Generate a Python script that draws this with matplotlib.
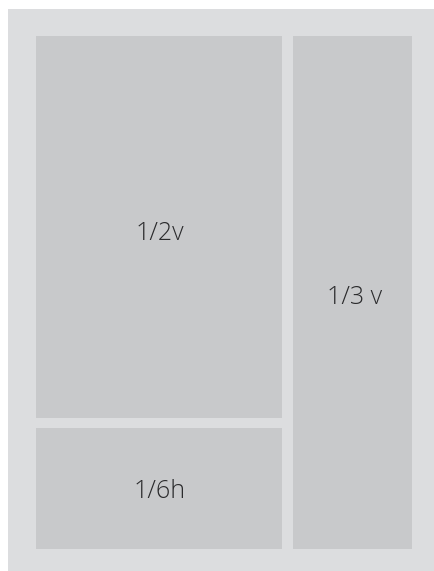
import matplotlib
matplotlib.use("Agg")
import matplotlib.pyplot as plt
from matplotlib.patches import Rectangle

W, H = 434, 571

# Panel labels and their boxes (x0, y0, x1, y1) in pixel space
labels = ["1/2v", "1/3 v", "1/6h"]
boxes_x0 = [36, 293, 36]
boxes_y0 = [36, 36, 428]
boxes_x1 = [282, 412, 282]
boxes_y1 = [418, 549, 549]
label_x = [160, 355, 160]
label_y = [234, 298, 492]

fig = plt.figure(figsize=(W / 100, H / 100), dpi=100)
ax = fig.add_axes([0, 0, 1, 1])
ax.set_xlim(0, W)
ax.set_ylim(H, 0)
ax.axis("off")

# outer frame
ax.add_patch(Rectangle((8, 9), W - 8, H - 9, facecolor="#dcdddf", edgecolor="none"))

for x0, y0, x1, y1 in zip(boxes_x0, boxes_y0, boxes_x1, boxes_y1):
    ax.add_patch(Rectangle((x0, y0), x1 - x0, y1 - y0, facecolor="#c8c9cb", edgecolor="none"))

for t, x, y in zip(labels, label_x, label_y):
    ax.text(x, y, t, ha="center", va="center", fontsize=18, color="#2a2a2c",
            family=["Open Sans", "DejaVu Sans"], fontweight="light")

fig.savefig("out.png", dpi=100)
